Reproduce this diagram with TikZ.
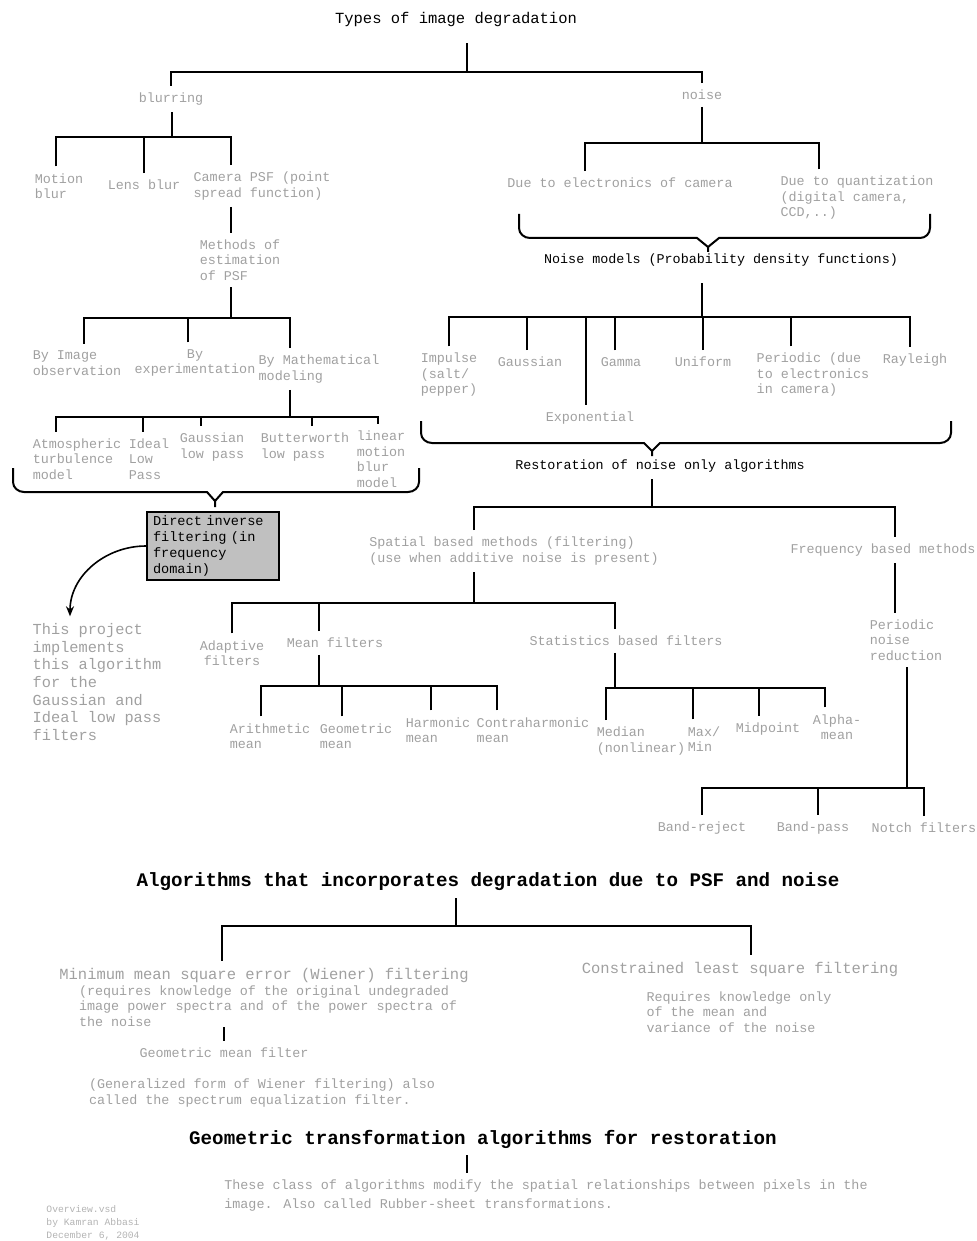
\documentclass[tikz,border=0pt]{standalone}
\usepackage{fontspec}
\setmainfont{Liberation Mono}
\usetikzlibrary{arrows.meta}
\definecolor{LabelGray}{RGB}{160,160,160}
\definecolor{BoxGray}{RGB}{192,192,192}

\begin{document}
\begin{tikzpicture}[x=0.5pt, y=-0.5pt,
          leaf/.style={text=LabelGray, font=\fontsize{6.7}{7.75}\selectfont, align=left, inner sep=0.5pt, outer sep=3pt},
          bigleaf/.style={leaf, font=\fontsize{7.75}{8.9}\selectfont},
          heading/.style={leaf, text=black},
          bigtitle/.style={font=\bfseries\fontsize{9.6}{11}\selectfont, inner sep=0.5pt, outer sep=3pt},
          inverse/.style={draw, line width=1pt, fill=BoxGray, text width=60pt, align=left, inner xsep=3pt, inner ysep=2pt, font=\fontsize{6.8}{8}\selectfont},
          credit/.style={leaf, text=LabelGray!80, font=\fontsize{4.85}{6.5}\selectfont},
          link/.style={line width=1pt},
          curly/.style={line width=1pt},
          pointer/.style={-{Stealth[length=5pt, width=4pt]}, line width=0.8pt}
        ]
          \useasboundingbox (0,0) rectangle (977,1241);

          % blurring branch
          \node[heading, font=\fontsize{7.75}{8.9}\selectfont, outer sep=8pt] (degrade) at (456,19) {Types of image degradation};
          \node[leaf] (blur) at (171,99) {blurring};
          \node[leaf] (noise) at (702,95) {noise};
          \node[leaf] (motion) at (59,186) {Motion\\blur};
          \node[leaf] (lens) at (144,185) {Lens blur};
          \node[leaf] (camera) at (262,186) {Camera PSF (point\\spread function)};
          \node[leaf] (methods) at (240,260) {Methods of\\estimation\\of PSF};
          \node[leaf] (byimage) at (77,363) {By Image\\observation};
          \node[leaf, align=center] (byexp) at (195,363) {By\\experimentation};
          \node[leaf] (bymath) at (319,369) {By Mathematical\\modeling};
          \node[leaf] (atmos) at (77,459) {Atmospheric\\turbulence\\model};
          \node[leaf] (ideal) at (149,459) {Ideal\\Low\\Pass};
          \node[leaf] (gausslp) at (212,447) {Gaussian\\low pass};
          \node[leaf] (butter) at (305,447) {Butterworth\\low pass};
          \node[leaf] (linear) at (381,459) {linear\\motion\\blur\\model};
          \node[inverse] (direct) at (213,546) {Direct inverse\\filtering (in\\frequency\\domain)};
          \node[leaf, font=\fontsize{7.65}{8.85}\selectfont] (project) at (97,682) {This project\\implements\\this algorithm\\for the\\Gaussian and\\Ideal low pass\\filters};

          % noise branch
          \node[leaf] (elec) at (620,183) {Due to electronics of camera};
          \node[leaf] (quant) at (857,198) {Due to quantization\\(digital camera,\\CCD,..)};
          \node[heading, outer sep=8pt] (noisemod) at (721,260) {Noise models (Probability density functions)};
          \node[leaf] (impulse) at (449,375) {Impulse\\(salt/\\pepper)};
          \node[leaf] (gauss) at (530,362) {Gaussian};
          \node[leaf] (gamma) at (621,362) {Gamma};
          \node[leaf] (uniform) at (703,362) {Uniform};
          \node[leaf] (periodic) at (813,375) {Periodic (due\\to electronics\\in camera)};
          \node[leaf] (rayleigh) at (915,360) {Rayleigh};
          \node[leaf] (expo) at (590,418) {Exponential};
          \node[heading] (restore) at (660,466) {Restoration of noise only algorithms};
          \node[leaf] (spatial) at (514,551) {Spatial based methods (filtering)\\(use when additive noise is present)};
          \node[leaf] (freq) at (883,550) {Frequency based methods};
          \node[leaf, align=center] (adaptive) at (232,653) {Adaptive\\filters};
          \node[leaf] (meanf) at (335,643) {Mean filters};
          \node[leaf] (statf) at (626,641) {Statistics based filters};
          \node[leaf] (pnr) at (906,640) {Periodic\\noise\\reduction};
          \node[leaf] (arith) at (270,736) {Arithmetic\\mean};
          \node[leaf] (geomet) at (356,736) {Geometric\\mean};
          \node[leaf] (harm) at (438,730) {Harmonic\\mean};
          \node[leaf] (contra) at (533,730) {Contraharmonic\\mean};
          \node[leaf] (median) at (641,741) {Median\\(nonlinear)};
          \node[leaf] (maxmin) at (704,739) {Max/\\Min};
          \node[leaf] (midpoint) at (768,729) {Midpoint};
          \node[leaf, align=center] (alpha) at (837,727) {Alpha-\\mean};
          \node[leaf] (bandrej) at (702,828) {Band-reject};
          \node[leaf] (bandpass) at (813,828) {Band-pass};
          \node[leaf] (notch) at (924,828) {Notch filters};

          % PSF and noise
          \node[bigtitle] (combined) at (488,882) {Algorithms that incorporates degradation due to PSF and noise};
          \node[bigleaf] (wiener) at (264,975) {Minimum mean square error (Wiener) filtering};
          \node[leaf, outer sep=0pt] (wienerinfo) at (268,1006) {(requires knowledge of the original undegraded\\image power spectra and of the power spectra of\\the noise};
          \node[leaf] (geofilter) at (224,1053) {Geometric mean filter};
          \node[leaf] (geoinfo) at (262,1093) {(Generalized form of Wiener filtering) also\\called the spectrum equalization filter.};
          \node[bigleaf] (cls) at (740,969) {Constrained least square filtering};
          \node[leaf] (clsinfo) at (739,1012) {Requires knowledge only\\of the mean and\\variance of the noise};
          \node[bigtitle] (geometric) at (483,1139) {Geometric transformation algorithms for restoration};
          \node[leaf, font=\fontsize{6.7}{9.5}\selectfont] (rubber) at (546,1196) {These class of algorithms modify the spatial relationships between pixels in the\\image. Also called Rubber-sheet transformations.};
          \node[credit] (author) at (93,1223) {Overview.vsd\\by Kamran Abbasi\\December 6, 2004};

          % top split
          \coordinate (jtop) at (467,72);
          \draw[link] (jtop |- degrade.south) -- (jtop);
          \draw[link] (blur.north) |- (jtop);
          \draw[link] (noise.north) |- (jtop);

          % blurring tree
          \coordinate (jblur) at (172,137);
          \draw[link] (jblur |- blur.south) -- (jblur);
          \draw[link] ([xshift=-1.5pt]motion.north) |- (jblur);
          \draw[link] (lens.north) |- (jblur);
          \draw[link] ([xshift=-15.5pt]camera.north) |- (jblur);
          \draw[link] ([xshift=-15.5pt]camera.south) -- ([xshift=-4.5pt]methods.north);

          \coordinate (jmeth) at (231,318);
          \draw[link] ([xshift=-4.5pt]methods.south) -- (jmeth);
          \draw[link] ([xshift=3.5pt]byimage.north) |- (jmeth);
          \draw[link] ([xshift=-3.5pt]byexp.north) |- (jmeth);
          \draw[link] ([xshift=-14.5pt]bymath.north) |- (jmeth);

          \coordinate (jmath) at (290,417);
          \draw[link] ([xshift=-14.5pt]bymath.south) -- (jmath);
          \draw[link] ([xshift=-10.5pt]atmos.north) |- (jmath);
          \draw[link] ([xshift=-3pt]ideal.north) |- (jmath);
          \draw[link] ([xshift=-5.5pt]gausslp.north) |- (jmath);
          \draw[link] ([xshift=3.5pt]butter.north) |- (jmath);
          \draw[link] ([xshift=-1.5pt]linear.north) |- (jmath);

          \draw[curly] (13,468) -- (13,482) to[out=-90,in=180] (24,492) -- (207,492) -- (215,501) -- (223,492) -- (408,492) to[out=0,in=-90] (419,482) -- (419,468)
                       (215,501) -- (215,507);
          \draw[pointer] (direct.west) to[out=180,in=90] ([xshift=-13.5pt]project.north);

          % noise tree
          \coordinate (jnoise) at (702,143);
          \draw[link] (noise.south) -- (jnoise);
          \draw[link] ([xshift=-17.5pt]elec.north) |- (jnoise);
          \draw[link] ([xshift=-19pt]quant.north) |- (jnoise);
          \draw[curly] (519,214) -- (519,228) to[out=-90,in=180] (530,238) -- (697,238) -- (708,247) -- (719,238) -- (920,238) to[out=0,in=-90] (930,228) -- (930,214)
                       (708,247) -- (708,252);

          \coordinate (jmodel) at (702,317);
          \draw[link] ([xshift=-9.5pt]noisemod.south) -- (jmodel);
          \draw[link] (impulse.north) |- (jmodel);
          \draw[link] ([xshift=-1.5pt]gauss.north) |- (jmodel);
          \draw[link] ([xshift=-2pt]expo.north) |- (jmodel);
          \draw[link] ([xshift=-3pt]gamma.north) |- (jmodel);
          \draw[link] (uniform.north) |- (jmodel);
          \draw[link] ([xshift=-11pt]periodic.north) |- (jmodel);
          \draw[link] ([xshift=-2.5pt]rayleigh.north) |- (jmodel);
          \draw[curly] (421,421) -- (421,433) to[out=-90,in=180] (432,443) -- (644,443) -- (652,451) -- (660,443) -- (940,443) to[out=0,in=-90] (951,433) -- (951,421)
                       (652,451) -- (652,456);

          \coordinate (jrest) at (652,507);
          \draw[link] ([xshift=-4pt]restore.south) -- (jrest);
          \draw[link] ([xshift=-20pt]spatial.north) |- (jrest);
          \draw[link] ([xshift=6pt]freq.north) |- (jrest);

          \coordinate (jspat) at (474,603);
          \draw[link] ([xshift=-20pt]spatial.south) -- (jspat);
          \draw[link] (adaptive.north) |- (jspat);
          \draw[link] ([xshift=-8pt]meanf.north) |- (jspat);
          \draw[link] ([xshift=-5.5pt]statf.north) |- (jspat);

          \coordinate (jmean) at (319,686);
          \draw[link] ([xshift=-8pt]meanf.south) -- (jmean);
          \draw[link] ([xshift=-4.5pt]arith.north) |- (jmean);
          \draw[link] ([xshift=-7pt]geomet.north) |- (jmean);
          \draw[link] ([xshift=-3.5pt]harm.north) |- (jmean);
          \draw[link] ([xshift=-18pt]contra.north) |- (jmean);

          \coordinate (jstat) at (615,688);
          \draw[link] ([xshift=-5.5pt]statf.south) -- (jstat);
          \draw[link] ([xshift=-17.5pt]median.north) |- (jstat);
          \draw[link] ([xshift=-5.5pt]maxmin.north) |- (jstat);
          \draw[link] ([xshift=-4.5pt]midpoint.north) |- (jstat);
          \draw[link] ([xshift=-6pt]alpha.north) |- (jstat);

          \draw[link] ([xshift=6pt]freq.south) -- ([xshift=-5.5pt]pnr.north);
          \coordinate (jperi) at (907,788);
          \draw[link] (jperi |- pnr.south) -- (jperi);
          \draw[link] (bandrej.north) |- (jperi);
          \draw[link] ([xshift=2.5pt]bandpass.north) |- (jperi);
          \draw[link] (notch.north) |- (jperi);

          % PSF and noise tree
          \coordinate (jcomb) at (456,926);
          \draw[link] ([xshift=-16pt]combined.south) -- (jcomb);
          \draw[link] ([xshift=-21pt]wiener.north) |- (jcomb);
          \draw[link] ([xshift=5.5pt]cls.north) |- (jcomb);
          \draw[link] (wienerinfo.south -| geofilter.north) -- (geofilter.north);

          \draw[link] ([xshift=-8pt]geometric.south) -- ([xshift=-39.5pt]rubber.north);
        \end{tikzpicture}
\end{document}
